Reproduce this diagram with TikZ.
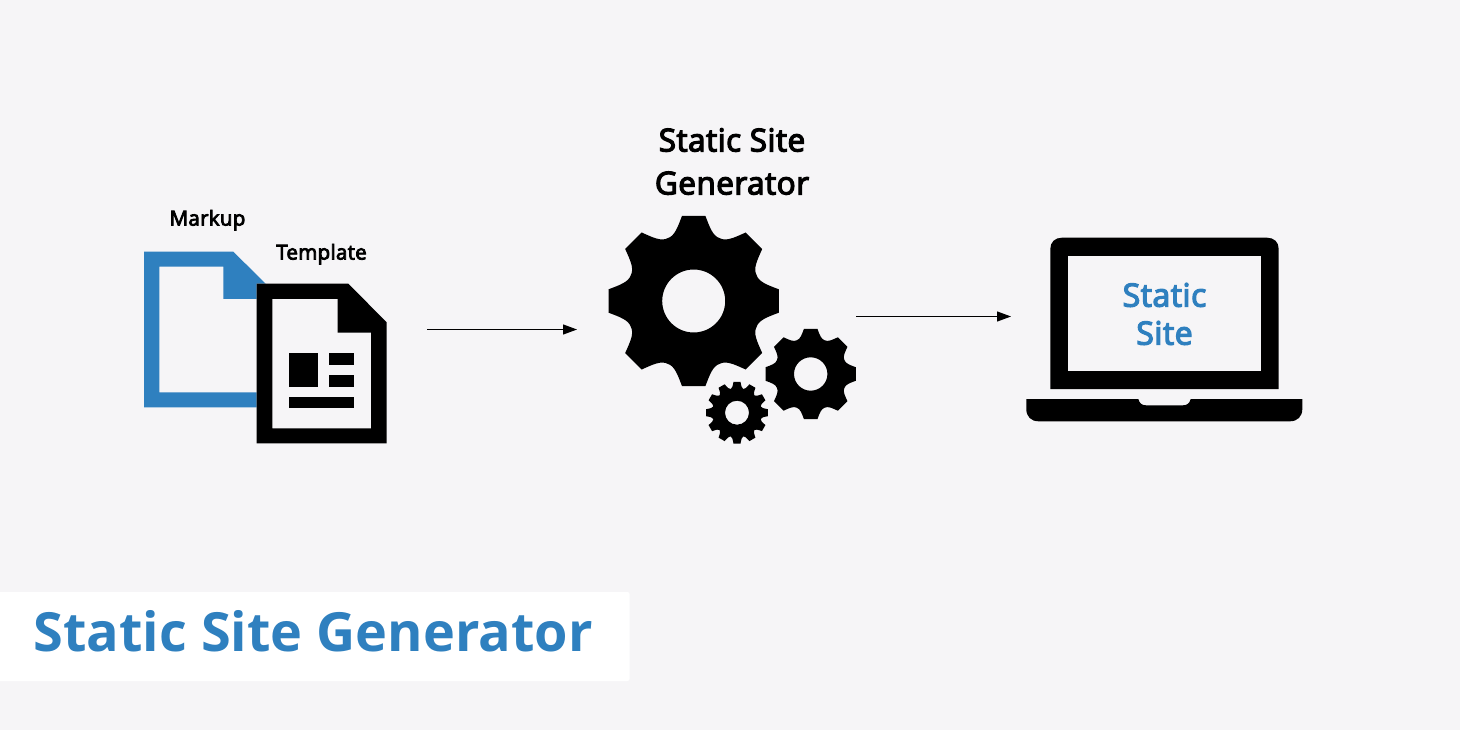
\documentclass[tikz,border=0pt]{standalone}
\usepackage{fontspec}
\setmainfont{Open Sans}
\newfontfamily\semib[FakeBold=4,LetterSpace=1.5]{Open Sans}
\usetikzlibrary{arrows.meta}
\definecolor{bgc}{HTML}{F6F5F7}
\definecolor{bluec}{HTML}{2F80BF}
\tikzset{
  lab/.style={inner sep=0pt, align=center, text=black},
  conn/.style={draw=black, line width=1.2pt, -{Stealth[length=14pt,width=10pt,inset=0pt]}},
  ink/.style={fill=black, draw=none},
}
% \gearshape{cx}{cy}{teeth}{outer}{valley}{tip half angle}{hole}
\newcommand{\gearshape}[7]{%
  \pgfmathsetmacro{\gst}{360/#3}%
  \pgfmathsetmacro{\ghl}{\gst/2}%
  \pgfmathtruncatemacro{\gn}{#3-1}%
  \fill[black,even odd rule,shift={(#1,#2)}]
    ({-#6}:#4)
    \foreach \k in {0,...,\gn}{
      -- ({\k*\gst+#6}:#4)
      .. controls ({\k*\gst+#6+0.30*(\ghl-#6)}:{#5+0.42*(#4-#5)}) and ({\k*\gst+\ghl-0.42*(\ghl-#6)}:{#5*0.995}) .. ({\k*\gst+\ghl}:#5)
      .. controls ({\k*\gst+\ghl+0.42*(\ghl-#6)}:{#5*0.995}) and ({(\k+1)*\gst-#6-0.30*(\ghl-#6)}:{#5+0.42*(#4-#5)}) .. ({(\k+1)*\gst-#6}:#4)
    } -- cycle
    (0,0) circle (#7);
}
\begin{document}
\begin{tikzpicture}[x=1pt,y=-1pt]
\useasboundingbox (0,0) rectangle (1460,730);
\fill[bgc] (0,0) rectangle (1460,730);

% Banner
\fill[white,rounded corners=2pt] (-5,592) rectangle (629.5,681);
\node[anchor=base west,inner sep=0pt,text=bluec,font=\fontsize{54}{60}\selectfont\bfseries] (title) at (33.5,651) {Static Site Generator};

% Markup document (blue)
\fill[bluec,even odd rule]
  (144,251.7) -- (233.3,251.7) -- (266,284) -- (266,407.3) -- (144,407.3) -- cycle
  (159.3,266.7) -- (223.3,266.7) -- (223.3,299) -- (266,299) -- (266,392.3) -- (159.3,392.3) -- cycle;
\node[lab,anchor=base,font=\fontsize{20.5}{22}\semib] (markup) at (207.5,225.5) {Markup};

% Template document (black)
\fill[bgc] (256.7,283.7) -- (348.3,283.7) -- (386.7,322.3) -- (386.7,443.3) -- (256.7,443.3) -- cycle;
\fill[black,even odd rule]
  (256.7,283.7) -- (348.3,283.7) -- (386.7,322.3) -- (386.7,443.3) -- (256.7,443.3) -- cycle
  (272.3,299) -- (337.7,299) -- (337.7,332.7) -- (371,332.7) -- (371,428.3) -- (272.3,428.3) -- cycle;
\fill[ink] (288.7,353.3) rectangle (318.3,386.7);
\fill[ink] (328.7,353.3) rectangle (354,365);
\fill[ink] (328.7,375) rectangle (354,386.7);
\fill[ink] (288.7,396.7) rectangle (354,408);
\node[lab,anchor=base,font=\fontsize{20.5}{22}\semib] (template) at (321.5,259.5) {Template};

% Gears
\gearshape{693.7}{301}{8}{86}{68}{7.8}{31.5}
\gearshape{810.7}{374}{8}{45.7}{36.5}{8.5}{16.7}
\gearshape{737}{412.7}{12}{31}{24.5}{6.5}{12}
\node[lab,font=\fontsize{31.5}{43}\semib] (ssg) at (732,161.5) {Static Site\\Generator};

% Laptop
\fill[black]
  (1050.3,389) -- (1050.3,249) .. controls (1050.3,242) and (1055,237.7) .. (1062,237.7)
  -- (1267,237.7) .. controls (1274,237.7) and (1278.7,242) .. (1278.7,249)
  -- (1278.7,389) -- cycle;
\fill[bgc] (1068.3,256) rectangle (1260.7,371);
\fill[black]
  (1026.3,399) -- (1138.3,399) .. controls (1139.5,403.5) and (1142,405.3) .. (1146,405.3)
  -- (1183,405.3) .. controls (1187,405.3) and (1189.5,403.5) .. (1190.7,399)
  -- (1302.3,399) -- (1302.3,409)
  .. controls (1302.3,416.5) and (1297.5,421.3) .. (1290,421.3)
  -- (1038.6,421.3) .. controls (1031,421.3) and (1026.3,416.5) .. (1026.3,409) -- cycle;
\node[lab,text=bluec,font=\fontsize{32}{38}\semib] (site) at (1164.5,314) {Static\\Site};

% Connectors
\coordinate (a1) at (427,329.5);
\coordinate (a2) at (577,329.5);
\coordinate (b1) at (856,316.5);
\coordinate (b2) at (1011,316.5);
\draw[conn] (a1) -- (a2);
\draw[conn] (b1) -- (b2);
\end{tikzpicture}
\end{document}
